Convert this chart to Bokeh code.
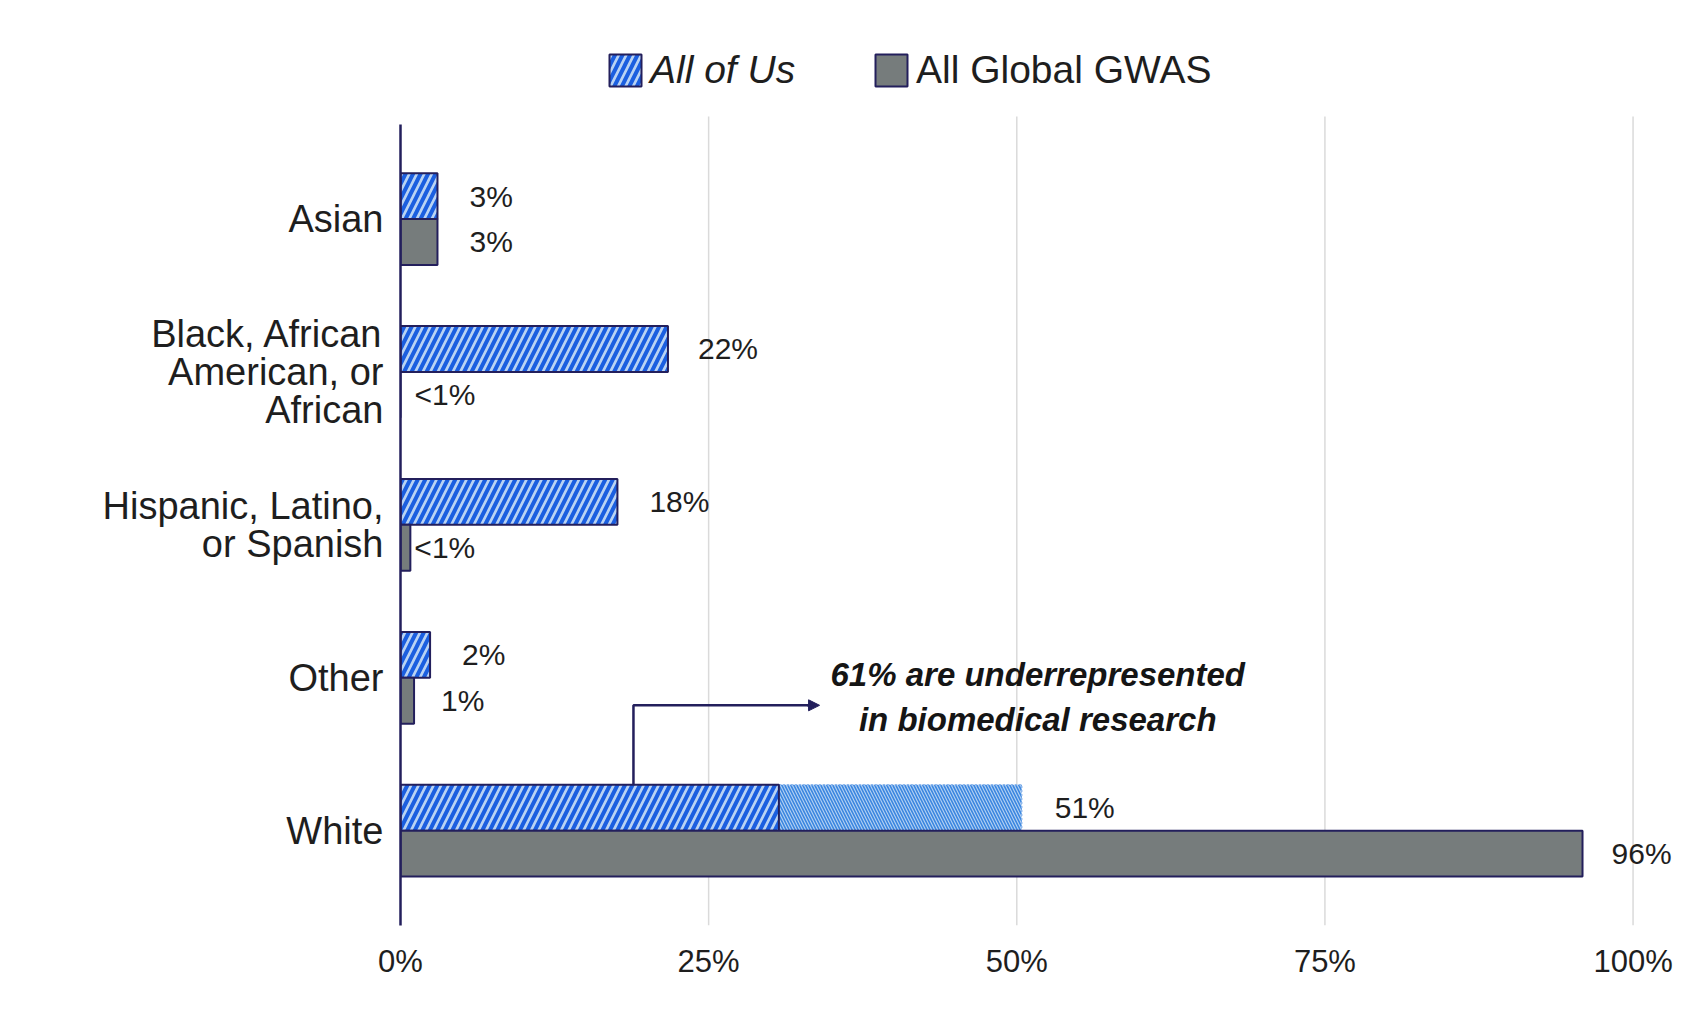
from bokeh.plotting import figure
from bokeh.models import Range1d, FixedTicker, Legend, LegendItem, Arrow, NormalHead, ColumnDataSource
from bokeh.core.properties import value
from bokeh.embed import file_html
from bokeh.resources import INLINE

# ---- data ----
categories = ["Asian", "Black, African\nAmerican, or\nAfrican", "Hispanic, Latino,\nor Spanish", "Other", "White"]
all_of_us = [3.0, 21.7, 17.6, 2.4, 50.4]
all_of_us_labels = ["3%", "22%", "18%", "2%", "51%"]
global_gwas = [3.0, 0.0, 0.8, 1.1, 95.9]
global_gwas_labels = ["3%", "<1%", "<1%", "1%", "96%"]
white_split = 30.7
x_ticks = [0, 25, 50, 75, 100]
x_tick_labels = ["0%", "25%", "50%", "75%", "100%"]
annotation_text = "61% are underrepresented\nin biomedical research"

# ---- style ----
FONT = "Liberation Sans"
NAVY = "#231f5c"
TXT = "#1e1e1e"
aou_label_dx = [32, 30, 32, 32, 33]
gwas_label_dx = [32, 14, 4, 27, 29]

n = len(categories)
ypos = [n - 1 - i for i in range(n)]
y_aou = [y + 0.15 for y in ypos]
y_gwas = [y - 0.15 for y in ypos]
aou_main_right = [white_split if c == "White" else v for c, v in zip(categories, all_of_us)]

Y_LO, Y_HI = -0.62, 4.67          # extent of the plotting area proper
p = figure(width=1683, height=1005, output_backend="svg", toolbar_location=None,
           x_range=Range1d(0, 103.2), y_range=Range1d(Y_LO, 5.429),
           min_border_left=400, min_border_right=11, min_border_top=0, min_border_bottom=80)
p.outline_line_color = None
p.background_fill_color = "white"
p.border_fill_color = "white"

p.xgrid.grid_line_color = None
p.ygrid.grid_line_color = None
# vertical gridlines limited to the plotting area (legend sits above them)
p.segment(x0=x_ticks[1:], y0=Y_LO, x1=x_ticks[1:], y1=Y_HI, line_color="#dadada", line_width=1.5)

p.xaxis.ticker = FixedTicker(ticks=x_ticks)
p.xaxis.major_label_overrides = dict(zip(x_ticks, x_tick_labels))
p.xaxis.axis_line_color = None
p.xaxis.major_tick_line_color = None
p.xaxis.minor_tick_line_color = None
p.xaxis.major_label_standoff = 12
p.xaxis.major_label_text_font = FONT
p.xaxis.major_label_text_font_size = "31px"
p.xaxis.major_label_text_color = TXT

p.yaxis.ticker = FixedTicker(ticks=ypos)
p.yaxis.bounds = (Y_LO, Y_HI - 0.05)
p.yaxis.major_label_overrides = dict(zip(ypos, categories))
p.yaxis.axis_line_color = NAVY
p.yaxis.axis_line_width = 2.5
p.yaxis.major_tick_line_color = None
p.yaxis.minor_tick_line_color = None
p.yaxis.major_label_standoff = 11
p.yaxis.major_label_text_font = FONT
p.yaxis.major_label_text_font_size = "38px"
p.yaxis.major_label_text_line_height = 0.9
p.yaxis.major_label_text_color = TXT

# White: second (finely hatched) segment
white_idx = categories.index("White")
p.hbar(y=[y_aou[white_idx]], left=[white_split], right=[all_of_us[white_idx]], height=0.3,
       fill_color="#b2d0f2", hatch_pattern="\\", hatch_color="#3a86e0", hatch_scale=6,
       hatch_weight=1.6, line_color="#8fb8ec", line_width=1.5, line_dash="2 2")

r_aou = p.hbar(y=y_aou, left=0, right=aou_main_right, height=0.3,
               fill_color="#b9d3f3", hatch_pattern="/", hatch_color="#1b5fe0",
               hatch_scale=15, hatch_weight=4, line_color=NAVY, line_width=2)
r_gwas = p.hbar(y=y_gwas, left=0, right=global_gwas, height=0.3,
                fill_color="#767c7c", line_color=NAVY, line_width=2)

lab_src = ColumnDataSource(dict(
    x=all_of_us + global_gwas,
    y=y_aou + y_gwas,
    t=all_of_us_labels + global_gwas_labels,
    dx=aou_label_dx + gwas_label_dx,
))
p.text(x="x", y="y", text="t", x_offset="dx", source=lab_src, text_align="left",
       text_baseline="middle", text_font=value(FONT), text_font_size="30px", text_color=TXT)

# annotation arrow + text
p.line(x=[18.9, 18.9, 33.2], y=[0.3, 0.82, 0.82], line_color=NAVY, line_width=2.5)
p.add_layout(Arrow(end=NormalHead(size=11, fill_color=NAVY, line_color=NAVY),
                   x_start=33.0, y_start=0.82, x_end=34.0, y_end=0.82,
                   line_color=NAVY, line_width=2.5))
p.text(x=[51.7], y=[0.875], text=[annotation_text], text_align="center", text_baseline="middle",
       text_font=value(FONT), text_font_style="bold italic", text_font_size="33px",
       text_line_height=1.2, text_color="#151515")

# legends (two, so that only "All of Us" is italic)
common = dict(orientation="horizontal", border_line_color=None, background_fill_alpha=0,
              padding=0, margin=0, spacing=0, label_standoff=5, glyph_width=40, glyph_height=40,
              label_height=40, label_text_font=FONT, label_text_font_size="39px",
              label_text_color=TXT, label_text_baseline="middle")
leg1 = Legend(items=[LegendItem(label="All of Us", renderers=[r_aou])], location=(205, 833),
              label_text_font_style="italic", **common)
leg2 = Legend(items=[LegendItem(label="All Global GWAS", renderers=[r_gwas])], location=(471, 833),
              **common)
p.add_layout(leg1)
p.add_layout(leg2)

open("out.html", "w").write(file_html(p, INLINE))
